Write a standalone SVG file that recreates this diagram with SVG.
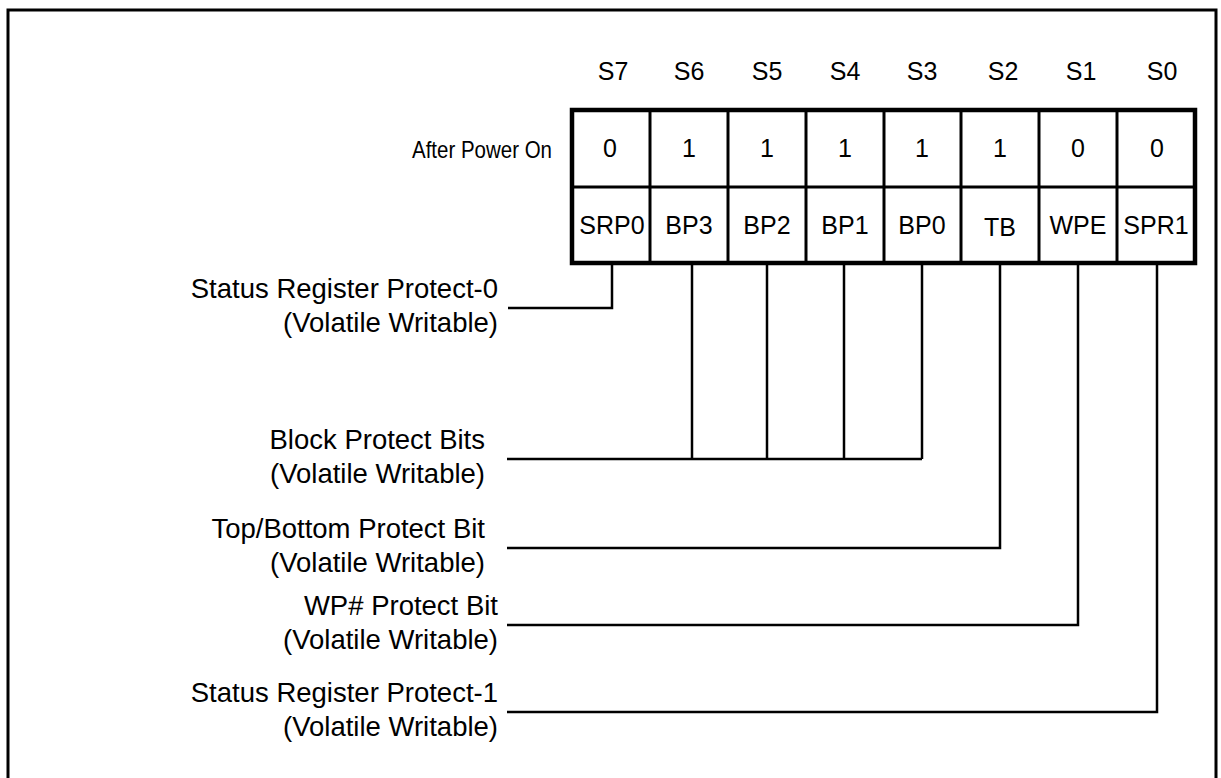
<svg xmlns="http://www.w3.org/2000/svg" width="1221" height="778" viewBox="0 0 1221 778">
<style>
.t{font-family:"Liberation Sans",Arial,sans-serif;font-size:25px;fill:#000}
.l{font-size:27.5px}
.m{text-anchor:middle}
.e{text-anchor:end}
.ln{fill:none;stroke:#000;stroke-width:2.5}
.dv{stroke:#000;stroke-width:3}
</style>
<rect width="1221" height="778" fill="#fff"/>
<polyline points="8,778 8,10 1216,10 1216,778" fill="none" stroke="#000" stroke-width="3"/>
<g id="bit-labels">
<text class="t m" x="613" y="80">S7</text>
<text class="t m" x="689" y="80">S6</text>
<text class="t m" x="767" y="80">S5</text>
<text class="t m" x="845" y="80">S4</text>
<text class="t m" x="922" y="80">S3</text>
<text class="t m" x="1003" y="80">S2</text>
<text class="t m" x="1081" y="80">S1</text>
<text class="t m" x="1162" y="80">S0</text>
</g>
<text id="row-label" class="t e" x="552" y="158" style="font-size:24.5px" textLength="140" lengthAdjust="spacingAndGlyphs">After Power On</text>
<g id="register">
<rect x="572" y="110" width="623" height="153" fill="#fff" stroke="#000" stroke-width="4.5"/>
<line class="dv" x1="572" y1="187" x2="1195" y2="187" stroke-width="5"/>
<line class="dv" x1="650" y1="110" x2="650" y2="263"/>
<line class="dv" x1="728" y1="110" x2="728" y2="263"/>
<line class="dv" x1="806" y1="110" x2="806" y2="263"/>
<line class="dv" x1="884" y1="110" x2="884" y2="263"/>
<line class="dv" x1="961" y1="110" x2="961" y2="263" stroke-width="4"/>
<line class="dv" x1="1039" y1="110" x2="1039" y2="263" stroke-width="4"/>
<line class="dv" x1="1117" y1="110" x2="1117" y2="263"/>
<text class="t m" x="610" y="157">0</text>
<text class="t m" x="689" y="157">1</text>
<text class="t m" x="767" y="157">1</text>
<text class="t m" x="845" y="157">1</text>
<text class="t m" x="922" y="157">1</text>
<text class="t m" x="1000" y="157">1</text>
<text class="t m" x="1078" y="157">0</text>
<text class="t m" x="1157" y="157">0</text>
<text class="t m" x="612" y="234">SRP0</text>
<text class="t m" x="689" y="234">BP3</text>
<text class="t m" x="767" y="234">BP2</text>
<text class="t m" x="845" y="234">BP1</text>
<text class="t m" x="922" y="234">BP0</text>
<text class="t m" x="1000" y="236">TB</text>
<text class="t m" x="1078" y="234">WPE</text>
<text class="t m" x="1156" y="234">SPR1</text>
</g>
<g id="label-srp0">
<text class="t l e" x="498" y="298">Status Register Protect-0</text>
<text class="t l e" x="498" y="332">(Volatile Writable)</text>
</g>
<g id="label-bp">
<text class="t l e" x="485" y="449">Block Protect Bits</text>
<text class="t l e" x="485" y="483">(Volatile Writable)</text>
</g>
<g id="label-tb">
<text class="t l e" x="485" y="538">Top/Bottom Protect Bit</text>
<text class="t l e" x="485" y="572">(Volatile Writable)</text>
</g>
<g id="label-wpe">
<text class="t l e" x="498" y="615">WP# Protect Bit</text>
<text class="t l e" x="498" y="649">(Volatile Writable)</text>
</g>
<g id="label-srp1">
<text class="t l e" x="498" y="702">Status Register Protect-1</text>
<text class="t l e" x="498" y="736">(Volatile Writable)</text>
</g>
<g id="connectors">
<polyline class="ln" points="612,265 612,308 508,308"/>
<polyline class="ln" points="507,459 922,459"/>
<line class="ln" x1="692" y1="265" x2="692" y2="459"/>
<line class="ln" x1="767" y1="265" x2="767" y2="459"/>
<line class="ln" x1="844" y1="265" x2="844" y2="459"/>
<line class="ln" x1="922" y1="265" x2="922" y2="459"/>
<polyline class="ln" points="1000,265 1000,548 507,548"/>
<polyline class="ln" points="1078,265 1078,625 507,625"/>
<polyline class="ln" points="1157,265 1157,712 507,712"/>
</g>
</svg>
